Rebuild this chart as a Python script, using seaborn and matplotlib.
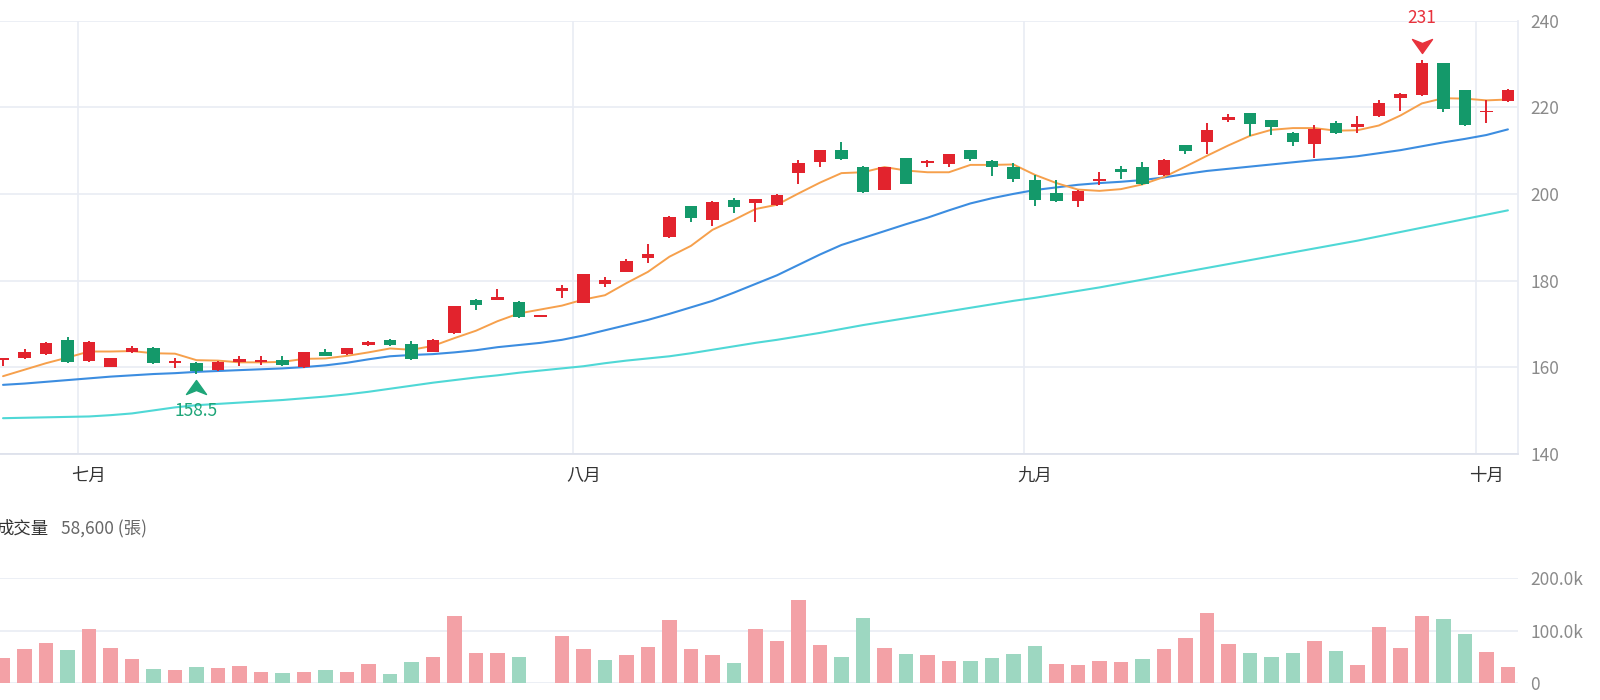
import seaborn as sns
import matplotlib.pyplot as plt
import matplotlib.transforms as mtrans
from matplotlib.path import Path
import pandas as pd
import numpy as np

sns.set_theme(style="white")
plt.rcParams['font.family'] = ['Noto Sans CJK TC', 'DejaVu Sans']

# --- datos (una vela por sesión) ---
opens = [161.6, 162.0, 163.0, 166.3, 161.5, 160.1, 163.6, 164.3, 160.9, 160.9,
         159.4, 161.1, 161.1, 161.7, 160.1, 163.4, 163.0, 165.1, 166.3, 165.3,
         163.6, 167.8, 175.6, 175.6, 175.1, 171.5, 177.6, 174.9, 179.2, 182.0,
         185.3, 190.0, 197.1, 194.0, 198.6, 198.0, 197.4, 204.9, 207.4, 210.1,
         206.1, 200.9, 208.2, 207.1, 206.9, 210.1, 207.7, 206.3, 203.2, 200.1,
         198.4, 202.9, 205.7, 206.1, 204.4, 211.2, 212.0, 217.1, 218.6, 217.1,
         214.0, 211.5, 216.4, 215.4, 217.9, 222.1, 222.8, 230.2, 224.1, 218.8,
         221.5]
highs = [162.0, 164.2, 165.7, 166.9, 166.1, 162.2, 164.8, 164.6, 162.2, 161.2,
         161.4, 162.5, 162.5, 162.5, 163.4, 164.2, 164.4, 166.1, 166.6, 166.1,
         166.4, 174.1, 175.7, 178.0, 175.3, 171.5, 179.0, 181.5, 180.9, 184.9,
         188.4, 194.8, 197.2, 198.3, 199.0, 198.9, 200.0, 207.8, 210.2, 212.1,
         206.5, 206.1, 208.2, 207.8, 209.3, 210.2, 207.8, 207.1, 204.4, 203.2,
         200.8, 205.1, 206.5, 207.4, 208.0, 211.3, 216.4, 218.4, 218.6, 217.1,
         214.4, 215.9, 216.9, 217.9, 221.8, 223.2, 231.0, 230.3, 224.1, 221.8,
         224.3]
lows = [160.3, 161.9, 162.9, 160.9, 161.2, 160.1, 163.2, 160.7, 159.9, 158.5,
        159.2, 160.3, 160.5, 160.3, 159.9, 162.5, 162.9, 164.9, 164.9, 161.6,
        163.5, 167.6, 173.2, 175.6, 171.3, 171.5, 175.9, 174.8, 178.4, 181.9,
        184.0, 189.9, 193.6, 192.6, 195.7, 193.6, 197.2, 202.2, 206.1, 207.9,
        200.3, 200.9, 202.3, 206.1, 206.1, 207.7, 204.1, 202.8, 197.2, 198.2,
        197.0, 202.1, 203.4, 202.1, 204.2, 209.2, 209.1, 216.7, 213.4, 213.6,
        211.1, 208.2, 213.8, 214.1, 217.7, 219.2, 222.6, 218.9, 215.7, 216.3,
        221.3]
closes = [162.0, 163.4, 165.6, 161.1, 165.9, 162.2, 164.3, 160.9, 161.2, 159.0,
          161.2, 161.9, 161.7, 160.5, 163.4, 162.6, 164.3, 165.9, 165.1, 161.9,
          166.3, 174.1, 174.3, 176.1, 171.5, 171.5, 178.2, 181.5, 180.1, 184.6,
          186.1, 194.6, 194.4, 198.2, 196.9, 198.8, 199.8, 207.2, 210.1, 208.0,
          200.5, 206.1, 202.4, 207.7, 209.2, 208.0, 206.1, 203.4, 198.6, 198.4,
          200.7, 203.4, 205.0, 202.4, 207.8, 210.0, 214.8, 217.7, 216.1, 215.5,
          212.1, 215.1, 214.0, 216.1, 221.1, 223.1, 230.2, 219.5, 215.9, 219.1,
          224.1]

ma5 = [157.9, 159.4, 160.9, 162.2, 163.6, 163.6, 163.7, 163.2, 163.1, 161.6,
       161.5, 161.1, 161.1, 161.2, 161.9, 162.0, 162.6, 163.4, 164.3, 164.0,
       164.9, 166.7, 168.4, 170.6, 172.4, 173.3, 174.2, 175.6, 176.6, 179.4,
       182.0, 185.5, 188.0, 191.7, 194.0, 196.5, 197.5, 200.1, 202.6, 204.8,
       205.0, 206.2, 205.4, 205.0, 205.0, 206.7, 206.7, 206.8, 204.4, 202.5,
       201.0, 200.7, 201.1, 202.2, 203.9, 206.3, 208.8, 211.2, 213.4, 214.8,
       215.2, 215.2, 214.6, 214.7, 215.8, 218.1, 220.9, 222.1, 222.0, 221.6,
       221.8]
ma20 = [155.9, 156.2, 156.6, 157.0, 157.4, 157.8, 158.1, 158.4, 158.6, 158.9,
        159.1, 159.3, 159.5, 159.7, 160.0, 160.4, 161.0, 161.8, 162.5, 162.8,
        163.0, 163.4, 163.9, 164.6, 165.1, 165.6, 166.3, 167.3, 168.5, 169.7,
        170.9, 172.3, 173.8, 175.3, 177.2, 179.2, 181.2, 183.6, 186.0, 188.2,
        189.8, 191.4, 193.0, 194.5, 196.2, 197.8, 199.0, 200.0, 200.9, 201.5,
        202.1, 202.5, 202.8, 203.2, 203.8, 204.6, 205.3, 205.8, 206.3, 206.8,
        207.3, 207.8, 208.2, 208.7, 209.4, 210.1, 211.0, 211.9, 212.7, 213.6,
        214.9]
ma60 = [148.2, 148.3, 148.4, 148.5, 148.6, 148.9, 149.3, 150.0, 150.7, 151.2,
        151.5, 151.8, 152.1, 152.4, 152.8, 153.2, 153.7, 154.3, 155.0, 155.7,
        156.4, 157.0, 157.6, 158.1, 158.7, 159.2, 159.7, 160.2, 160.9, 161.5,
        162.0, 162.5, 163.2, 164.0, 164.8, 165.6, 166.3, 167.1, 167.9, 168.8,
        169.7, 170.5, 171.3, 172.1, 172.9, 173.7, 174.5, 175.3, 176.0, 176.8,
        177.6, 178.4, 179.3, 180.2, 181.1, 182.0, 182.9, 183.8, 184.7, 185.6,
        186.5, 187.4, 188.3, 189.2, 190.2, 191.2, 192.2, 193.2, 194.2, 195.2,
        196.2]

# volumen en miles de lotes; 1 = rojo (sube), 0 = verde (baja)
volume_k = [49, 66, 77, 63, 104, 68, 47, 28, 25, 31,
            30, 33, 22, 19, 22, 26, 22, 36, 17, 40,
            51, 128, 58, 57, 50, 0, 91, 66, 45, 53,
            69, 120, 66, 53, 39, 104, 80, 158, 73, 51,
            125, 68, 55, 53, 42, 42, 49, 55, 71, 36,
            35, 42, 40, 46, 66, 87, 134, 75, 57, 51,
            58, 81, 61, 35, 107, 67, 128, 123, 93, 59,
            31]
volume_up = [1, 1, 1, 0, 1, 1, 1, 0, 1, 0,
             1, 1, 1, 0, 1, 0, 1, 1, 0, 0,
             1, 1, 1, 1, 0, 1, 1, 1, 0, 1,
             1, 1, 1, 1, 0, 1, 1, 1, 1, 0,
             0, 1, 0, 1, 1, 0, 0, 0, 0, 1,
             1, 1, 1, 0, 1, 1, 1, 1, 0, 0,
             0, 1, 0, 1, 1, 1, 1, 0, 0, 1,
             1]

month_starts = [4, 27, 48, 69]
month_labels = ['七月', '八月', '九月', '十月']
price_ticks = [140, 160, 180, 200, 220, 240]
vol_ticks = [0, 100000, 200000]
vol_tick_labels = ['0', '100.0k', '200.0k']
vol_title = '成交量'
vol_value = '58,600 (張)'

# --- colores ---
RED = '#e2232d'
GREEN = '#14996a'
PINK = '#f3a1a6'
MINT = '#9dd7c1'
ORANGE = '#f6a04c'
BLUE = '#3c8de0'
CYAN = '#4fd8d6'
GRID = '#e9ecf4'
TICK = '#8a8a8a'

x = np.arange(len(closes))
o = np.array(opens)
c = np.array(closes)
up = c >= o
colors = np.where(up, RED, GREEN)

fig = plt.figure(figsize=(16, 7), dpi=100)
axp = fig.add_axes([0, 1 - 453.7 / 700, 1518 / 1600, 433 / 700])
axv = fig.add_axes([0, 1 - 683.3 / 700, 1518 / 1600, 105 / 700])

# --- panel de precio ---
for m in month_starts:
    axp.axvline(m - 0.5, color=GRID, lw=1.2, zorder=0)

sns.lineplot(x=x, y=ma60, color=CYAN, lw=1.5, ax=axp, zorder=2)
sns.lineplot(x=x, y=ma20, color=BLUE, lw=1.5, ax=axp, zorder=2)
sns.lineplot(x=x, y=ma5, color=ORANGE, lw=1.4, ax=axp, zorder=2)

axp.vlines(x, lows, highs, colors=colors, lw=1.4, zorder=3)
axp.bar(x, np.maximum(np.abs(c - o), 0.45), bottom=np.minimum(o, c),
        width=0.58, color=colors, linewidth=0, zorder=4)

# marcas de máximo y mínimo
up_arrow = Path([(0, 0.7), (1, -0.7), (0, -0.3), (-1, -0.7), (0, 0.7)],
                [Path.MOVETO, Path.LINETO, Path.LINETO, Path.LINETO, Path.CLOSEPOLY])
down_arrow = Path([(0, -0.7), (1, 0.7), (0, 0.3), (-1, 0.7), (0, -0.7)],
                  [Path.MOVETO, Path.LINETO, Path.LINETO, Path.LINETO, Path.CLOSEPOLY])
lo_i = int(np.argmin(lows))
hi_i = int(np.argmax(highs))
tr_lo = mtrans.offset_copy(axp.transData, fig=fig, y=-13, units='dots')
tr_hi = mtrans.offset_copy(axp.transData, fig=fig, y=14, units='dots')
axp.plot([lo_i], [lows[lo_i]], marker=up_arrow, ms=14.4, color='#1ea578',
         ls='none', transform=tr_lo, clip_on=False, zorder=6)
axp.plot([hi_i], [highs[hi_i]], marker=down_arrow, ms=14.4, color='#e8323c',
         ls='none', transform=tr_hi, clip_on=False, zorder=6)
axp.annotate(f'{lows[lo_i]:g}', (lo_i, lows[lo_i]), xytext=(0, -27),
             textcoords='offset points', ha='center', va='center',
             color='#1ea578', fontsize=12.5, annotation_clip=False)
axp.annotate(f'{highs[hi_i]:g}', (hi_i, highs[hi_i]), xytext=(0, 30),
             textcoords='offset points', ha='center', va='center',
             color='#e8323c', fontsize=12.5, annotation_clip=False)

axp.set_xlim(-0.14, 70.47)
axp.set_ylim(140, 240)
axp.set_yticks(price_ticks)
axp.grid(axis='y', color=GRID, lw=1.2)
axp.grid(axis='x', visible=False)
axp.yaxis.tick_right()
axp.set_xticks(month_starts, month_labels)
axp.tick_params(axis='y', length=0, pad=9, labelsize=12.5, labelcolor=TICK)
axp.tick_params(axis='x', length=0, pad=9.5, labelsize=12.5, labelcolor='#333333')
axp.set_xlabel('')
axp.set_ylabel('')
for side in ['left', 'top']:
    axp.spines[side].set_visible(False)
axp.spines['right'].set_color(GRID)
axp.spines['bottom'].set_color('#dde1eb')

# --- panel de volumen ---
vol_df = pd.DataFrame({
    'slot': x,
    'vol': np.array(volume_k) * 1000,
    'dir': np.where(np.array(volume_up) == 1, 'up', 'down'),
})
sns.barplot(data=vol_df, x='slot', y='vol', hue='dir',
            palette={'up': PINK, 'down': MINT}, native_scale=True,
            dodge=False, width=0.68, saturation=1, errorbar=None,
            linewidth=0, legend=False, ax=axv)
axv.set_xlim(-0.14, 70.47)
axv.set_ylim(0, 200000)
axv.set_yticks(vol_ticks, vol_tick_labels)
axv.set_xticks([])
axv.grid(axis='y', color=GRID, lw=1.2)
axv.set_axisbelow(True)
axv.yaxis.tick_right()
axv.tick_params(axis='y', length=0, pad=9, labelsize=12.5, labelcolor=TICK)
axv.set_xlabel('')
axv.set_ylabel('')
for side in ['left', 'top', 'right', 'bottom']:
    axv.spines[side].set_visible(False)

# el título del volumen queda cortado en el borde izquierdo, como en el original
fig.text(-4 / 1600, 1 - 529 / 700, vol_title, color='#333333', fontsize=12.5,
         ha='left', va='center')
fig.text(61 / 1600, 1 - 529 / 700, vol_value, color='#666666', fontsize=12.5,
         ha='left', va='center')

fig.savefig('out.png', dpi=100)
